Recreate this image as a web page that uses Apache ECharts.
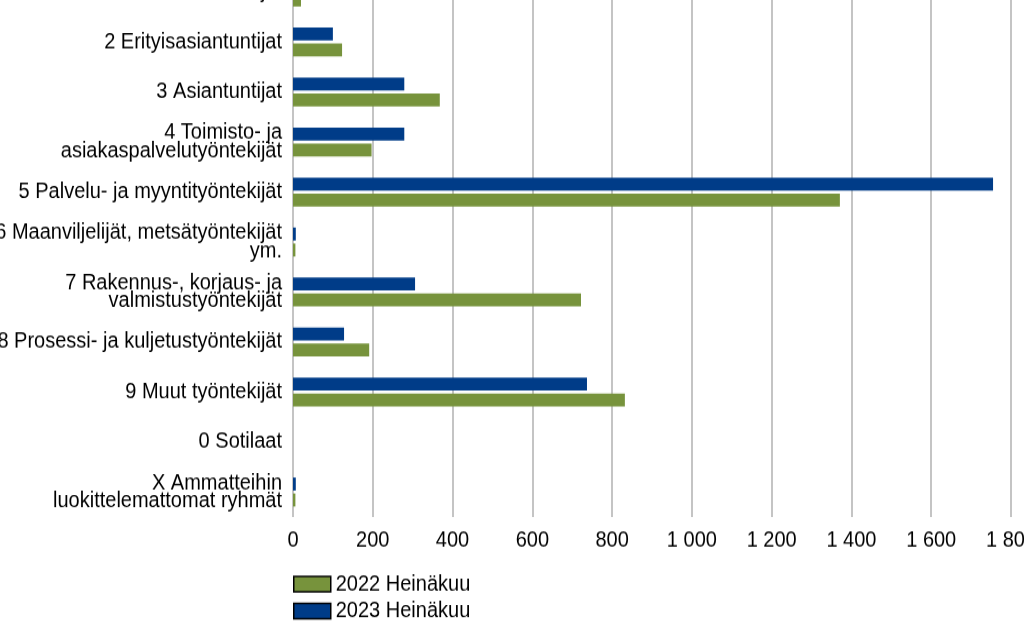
<!DOCTYPE html>
<html>
<head>
    <meta charset="utf-8">
    <title>Ammattiryhmät</title>
    <script src="https://cdn.jsdelivr.net/npm/echarts@6/dist/echarts.min.js"></script>
    <style>
        html, body {
            margin: 0;
            padding: 0;
            overflow: hidden;
            background: #fff;
            width: 1024px;
            height: 641px;
        }
        /* alkuperäinen kuva on hieman venytetty pystysuunnassa */
        #chart {
            position: absolute;
            left: 0;
            top: -33px;
            width: 1024px;
            height: 613px;
            transform: scaleY(1.1);
            transform-origin: 0 0;
        }
    </style>
</head>
<body>
<div id="chart"></div>
<script>
    var categories = [
        '1 Johtajat',
        '2 Erityisasiantuntijat',
        '3 Asiantuntijat',
        '4 Toimisto- ja\nasiakaspalvelutyöntekijät',
        '5 Palvelu- ja myyntityöntekijät',
        '6 Maanviljelijät, metsätyöntekijät\nym.',
        '7 Rakennus-, korjaus- ja\nvalmistustyöntekijät',
        '8 Prosessi- ja kuljetustyöntekijät',
        '9 Muut työntekijät',
        '0 Sotilaat',
        'X Ammatteihin\nluokittelemattomat ryhmät'
    ];
    var seriesNames = ['2022 Heinäkuu', '2023 Heinäkuu'];
    var values2022 = [20, 123, 368, 197, 1371, 6, 722, 191, 832, 0, 6];
    var values2023 = [15, 100, 279, 279, 1755, 7, 306, 128, 737, 0, 7];
    var axisMin = 0, axisMax = 1800, axisStep = 200;

    var font = "'Liberation Sans', Arial, sans-serif";
    var green = '#77933C';
    var blue = '#003C88';

    // tuhaterotin välilyönnillä
    function fmt(v) {
        return String(v).replace(/\B(?=(\d{3})+(?!\d))/g, ' ');
    }

    var chart = echarts.init(document.getElementById('chart'));

    var option = {
        animation: false,
        textStyle: { fontFamily: font },
        grid: {
            left: 293,
            right: 13,
            top: 0,
            bottom: 113,
            containLabel: false,
            outerBoundsMode: 'none'
        },
        legend: {
            orient: 'vertical',
            left: 293,
            top: 551,
            padding: 0,
            icon: 'rect',
            itemWidth: 37,
            itemHeight: 14,
            itemGap: 4.5,
            itemStyle: { borderColor: '#000', borderWidth: 1.5 },
            textStyle: { fontSize: 20, color: '#000', fontFamily: font },
            data: seriesNames
        },
        xAxis: {
            type: 'value',
            min: axisMin,
            max: axisMax,
            interval: axisStep,
            axisLine: { show: false },
            axisTick: { show: false },
            axisLabel: {
                fontSize: 20,
                color: '#000',
                margin: 11,
                formatter: fmt
            },
            splitLine: {
                show: true,
                lineStyle: { color: '#c4c4c4', width: 2 }
            }
        },
        yAxis: {
            type: 'category',
            inverse: true,
            data: categories,
            axisLine: { show: false },
            axisTick: { show: false },
            axisLabel: {
                fontSize: 20,
                color: '#000',
                lineHeight: 16.5,
                margin: 11
            }
        },
        series: [
            {
                name: seriesNames[1],
                type: 'bar',
                data: values2023,
                barWidth: 11.8,
                barGap: '23%',
                itemStyle: { color: blue }
            },
            {
                name: seriesNames[0],
                type: 'bar',
                data: values2022,
                barWidth: 11.8,
                barGap: '23%',
                itemStyle: { color: green }
            }
        ]
    };

    chart.setOption(option);
</script>
</body>
</html>
